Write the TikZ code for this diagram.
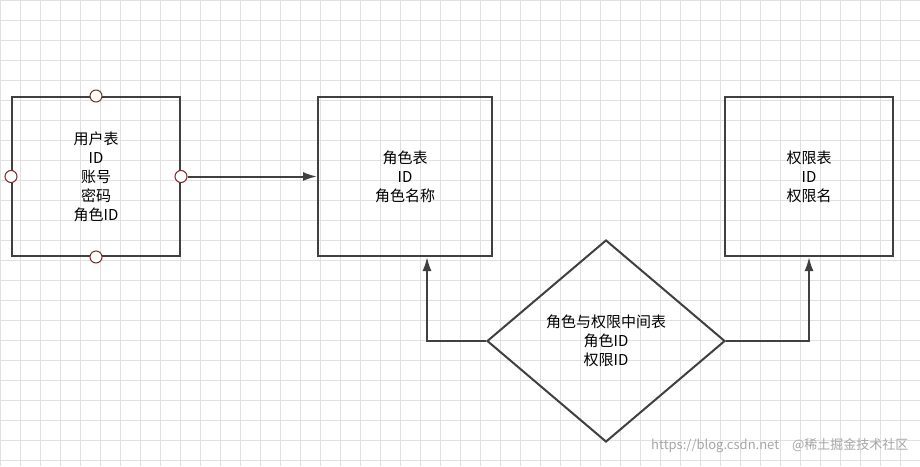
\documentclass[tikz,border=0pt]{standalone}
\usepackage{fontspec}
\setmainfont{Noto Sans CJK SC}
\usetikzlibrary{shapes.geometric,positioning,arrows.meta}
\begin{document}
\begin{tikzpicture}[x=1pt,y=-1pt]
      \tikzstyle{tbox} = [draw=black!75, line width=2pt, minimum width=168pt, minimum height=159pt, align=center, inner sep=0pt, font=\fontsize{15}{19}\selectfont]
      \tikzstyle{rnode} = [draw=black!75, line width=2pt, diamond, minimum width=238pt, minimum height=202pt, inner sep=0pt, align=center, font=\fontsize{15}{19}\selectfont]
      \tikzstyle{port} = [circle, draw={rgb,255:red,130;green,40;blue,40}, fill=white, line width=1pt, minimum size=12pt, inner sep=0pt]
      \tikzstyle{link} = [draw=black!75, line width=2pt, -{Latex[length=14pt,width=9pt]}]

      \useasboundingbox (0,0) rectangle (920,466);
      \fill[white] (0,0) rectangle (920,466);
      % grid
      \foreach \gx in {0,20,...,920} \draw[black!12, line width=0.6pt] (\gx,0) -- (\gx,466);
      \foreach \gy in {0,20,...,460} \draw[black!12, line width=0.6pt] (0,\gy) -- (920,\gy);

      \node[tbox] (user) at (96,176.5) {用户表\\ID\\账号\\密码\\角色ID};
      \node[tbox, minimum width=174pt] (role) at (405,176.5) {角色表\\ID\\角色名称};
      \node[tbox] (perm) at (809,176.5) {权限表\\ID\\权限名};
      \node[rnode] (rp) at (606,341) {角色与权限中间表\\角色ID\\权限ID};

      % ports
      \node[port] (pt) at (user.north) {};
      \node[port] (pb) at (user.south) {};
      \node[port] (pl) at (user.west) {};
      \node[port] (pr) at (user.east) {};

      % connections
      \draw[link] (pr) -- (role.west);
      \draw[link] (rp.west) -| (role.south -| 427,0);
      \draw[link] (rp.east) -| (perm.south);

      \node[black!35, anchor=south east, font=\fontsize{13}{15}\selectfont] (mark) at (912,456) {https://blog.csdn.net\quad @稀土掘金技术社区};
\end{tikzpicture}
\end{document}
